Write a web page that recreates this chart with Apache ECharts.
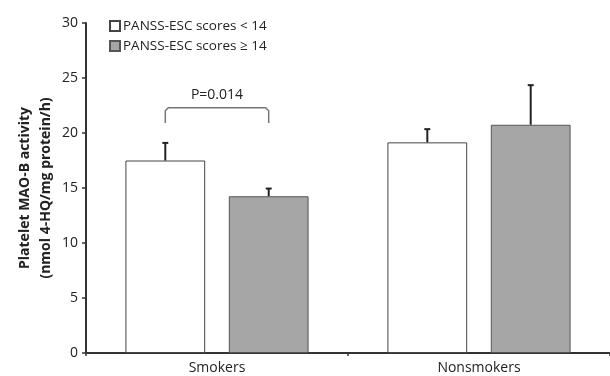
<!DOCTYPE html>
<html>
<head>
<meta charset="utf-8">
<script src="https://cdn.jsdelivr.net/npm/echarts@6/dist/echarts.min.js"></script>
<style>html,body{margin:0;padding:0;background:#fff;}#c{width:610px;height:376px;}</style>
</head>
<body>
<div id="c"></div>
<script>
var categories = ['Smokers', 'Nonsmokers'];
var seriesNames = ['PANSS-ESC scores < 14', 'PANSS-ESC scores \u2265 14'];
var lowValues = [17.5, 19.15];
var lowErrors = [1.6, 1.2];
var highValues = [14.25, 20.75];
var highErrors = [0.7, 3.6];
var yTicks = [0, 5, 10, 15, 20, 25, 30];
// significance annotation
var sigCategory = 0;
var sigBracket = [22.3, 20.9];
var sigLabel = 'P=0.014';

var FONT = '"Open Sans", "Liberation Sans", sans-serif';
var BAR_W = 0.3045, BAR_GAP = 0.296;

function errData(vals, errs) {
  return vals.map(function (v, i) { return [i, v, v + errs[i]]; });
}
function errSeries(vals, errs, side) {
  return {
    type: 'custom',
    silent: true,
    z: 5,
    data: errData(vals, errs),
    renderItem: function (params, api) {
      var band = api.size([1, 0])[0];
      var off = side * band * BAR_W * (1 + BAR_GAP) / 2;
      var base = api.coord([api.value(0), api.value(1)]);
      var top = api.coord([api.value(0), api.value(2)]);
      var x = base[0] + off;
      var st = { stroke: '#222', lineWidth: 2 };
      return {
        type: 'group',
        children: [
          { type: 'line', shape: { x1: x, y1: base[1], x2: x, y2: top[1] }, style: st },
          { type: 'line', shape: { x1: x - 3, y1: top[1], x2: x + 3, y2: top[1] }, style: st }
        ]
      };
    }
  };
}

var chart = echarts.init(document.getElementById('c'));
chart.setOption({
  animation: false,
  backgroundColor: '#fff',
  grid: { left: 86, top: 23, width: 532, bottom: 23, containLabel: false },
  legend: {
    orient: 'vertical',
    left: 104,
    top: 14,
    itemWidth: 10,
    itemHeight: 10,
    itemGap: 6,
    icon: 'rect',
    textStyle: { fontFamily: FONT, fontSize: 13.5, color: '#222', padding: [0, 0, 0, -2] },
    data: seriesNames
  },
  xAxis: {
    type: 'category',
    data: categories,
    axisLine: { lineStyle: { color: '#333', width: 2 } },
    axisTick: { show: true, length: 3, lineStyle: { color: '#333', width: 1.5 } },
    axisLabel: { fontFamily: FONT, fontSize: 14, color: '#222', margin: 8 }
  },
  yAxis: {
    type: 'value',
    min: 0,
    max: 30,
    interval: 5,
    splitLine: { show: false },
    axisLine: { show: true, lineStyle: { color: '#333', width: 2 } },
    axisTick: { show: true, length: 4, lineStyle: { color: '#333', width: 1.5 } },
    axisLabel: { fontFamily: FONT, fontSize: 14, color: '#222', margin: 8,
      formatter: function (v) { return yTicks.indexOf(v) >= 0 ? String(v) : ''; } },
    name: 'Platelet MAO-B activity\n(nmol 4-HQ/mg protein/h)',
    nameLocation: 'middle',
    nameGap: 29,
    nameMoveOverlap: false,
    nameTextStyle: { fontFamily: FONT, fontSize: 14, fontWeight: 'bold', color: '#222', lineHeight: 21 }
  },
  series: [
    {
      name: seriesNames[0],
      type: 'bar',
      data: lowValues,
      barWidth: (BAR_W * 100) + '%',
      barGap: (BAR_GAP * 100) + '%',
      itemStyle: { color: '#ffffff', borderColor: '#444', borderWidth: 1 }
    },
    {
      name: seriesNames[1],
      type: 'bar',
      data: highValues,
      barWidth: (BAR_W * 100) + '%',
      barGap: (BAR_GAP * 100) + '%',
      itemStyle: { color: '#a6a6a6', borderColor: '#555', borderWidth: 1 }
    },
    errSeries(lowValues, lowErrors, -1),
    errSeries(highValues, highErrors, 1),
    {
      type: 'custom',
      silent: true,
      z: 6,
      data: [[sigCategory, sigBracket[0], sigBracket[1]]],
      renderItem: function (params, api) {
        var band = api.size([1, 0])[0];
        var off = band * BAR_W * (1 + BAR_GAP) / 2;
        var p = api.coord([api.value(0), api.value(1)]);
        var leg = api.coord([api.value(0), api.value(2)]);
        var xl = p[0] - off, xr = p[0] + off;
        return {
          type: 'group',
          children: [
            { type: 'polyline', shape: { points: [[xl, leg[1]], [xl, p[1] + 3], [xl + 3, p[1]], [xr - 3, p[1]], [xr, p[1] + 3], [xr, leg[1]]] },
              style: { stroke: '#777', lineWidth: 1.5, fill: null } },
            { type: 'text', x: p[0], y: p[1] - 6,
              style: { text: sigLabel, fontFamily: FONT, fontSize: 14, fill: '#222', align: 'center', verticalAlign: 'bottom' } }
          ]
        };
      }
    }
  ]
});
</script>
</body>
</html>
